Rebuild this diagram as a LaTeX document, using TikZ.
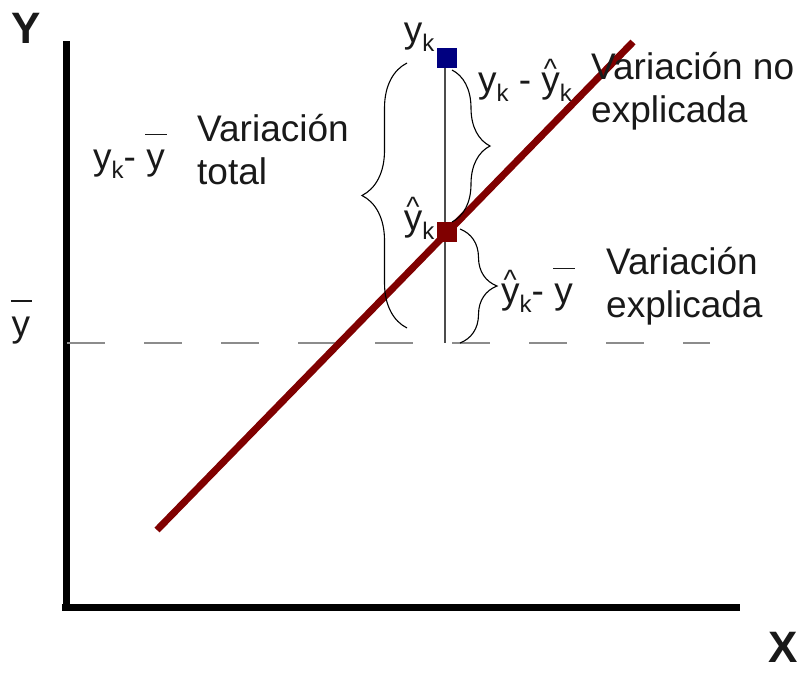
\documentclass[tikz,border=0pt]{standalone}
\usepackage{fontspec}
\setmainfont{Liberation Sans}
\usetikzlibrary{decorations.pathreplacing}
\definecolor{DarkRed}{HTML}{800000}
\definecolor{DarkBlue}{HTML}{000080}
\definecolor{MeanGray}{HTML}{8C8C8C}
\newcommand{\sk}{\raisebox{-0.45ex}{\fontsize{24}{24}\selectfont k}}
\newcommand{\ybar}{\rlap{\hspace{-1pt}\rule[0.93em]{0.58em}{1.3pt}}y}
\newcommand{\yhat}{\rlap{\hspace{2.5pt}\raisebox{14pt}{\fontsize{28}{28}\selectfont\textasciicircum}}y}

\begin{document}
\begin{tikzpicture}[x=1pt, y=-1pt,
  lbl/.style={font=\fontsize{37}{43}\selectfont, inner sep=0pt, text=black!90},
  axislbl/.style={font=\fontsize{44}{44}\selectfont\bfseries, inner sep=0pt, text=black!90},
  axis/.style={line width=7pt},
  obs/.style={fill=#1, minimum size=20pt, inner sep=0pt},
  bracket/.style={decorate, decoration={brace, amplitude=#1}, line width=1.1pt}]
  \useasboundingbox (0,0) rectangle (802,672);

  % Axes
  \coordinate (ytop) at (66,41);
  \coordinate (origin) at (66,607);
  \coordinate (xend) at (740,607);
  \draw[axis] (ytop) -- (66,604);
  \draw[axis] (62,607) -- (xend);
  \node[axislbl] (ylab) at (26,28) {Y};
  \node[axislbl] (xlab) at (783,647) {X};

  % Mean line
  \coordinate (meanleft) at (67,343);
  \coordinate (meanright) at (710,343);
  \draw[MeanGray, line width=1.4pt, dash pattern=on 38pt off 39pt] (meanleft) -- (meanright);
  \node[lbl] (meanlab) at (21,322) {\ybar};

  % Vertical line at x_k
  \coordinate (kmean) at (445,343);
  \draw[black!70, line width=1.3pt] (445,58) -- (kmean);

  % Regression line
  \coordinate (fitlo) at (157,530);
  \coordinate (fithi) at (633,42);
  \draw[DarkRed, line width=7pt] (fitlo) -- (fithi);

  % Observed and fitted values
  \node[obs=DarkBlue] (yk) at (447,58) {};
  \node[obs=DarkRed] (yhatk) at (447,232) {};
  \node[lbl] (yklab) at (419,37) {y\sk};
  \node[lbl] (yhatlab) at (419,218) {\yhat\sk};

  % Braces
  \draw[bracket=45] (407,328) -- (407,63);
  \draw[bracket=38] (452,70) -- (452,222);
  \draw[bracket=37] (460,229) -- (460,343);

  % Labels
  \node[lbl] (totaldiff) at (129,156) {y\sk- \ybar};
  \node[lbl, anchor=west, align=left] (totallab) at (197,150) {Variación\\total};
  \node[lbl] (resdiff) at (525,80) {y\sk\ - \yhat\sk};
  \node[lbl, anchor=west, align=left] (reslab) at (591,91) {Variación no\\explicada};
  \node[lbl] (regdiff) at (537,290) {\yhat\sk- \ybar};
  \node[lbl, anchor=west, align=left] (reglab) at (606,286) {Variación\\explicada};
\end{tikzpicture}
\end{document}
